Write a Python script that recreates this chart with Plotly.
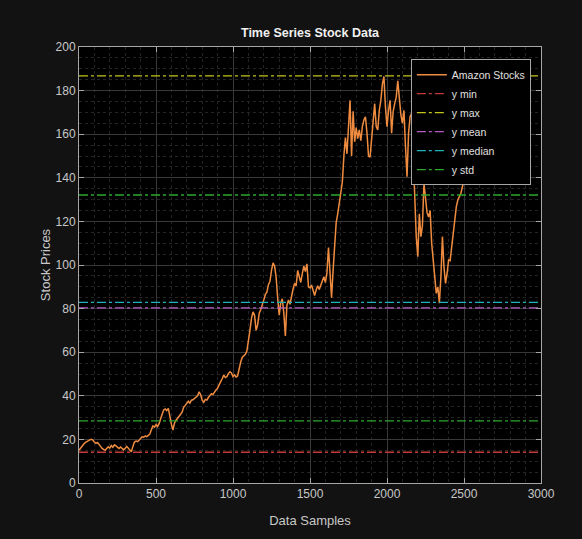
import plotly.graph_objects as go

# Daily closing prices, sampled every 10 trading days
sample_step = 10
prices = [
    15.0, 16.0, 17.2, 17.8, 18.5, 19.0, 19.6, 19.8, 20.0, 19.7,
    18.8, 18.2, 18.6, 17.9, 16.8, 15.9, 15.3, 15.0, 15.8, 16.6,
    16.0, 17.2, 16.4, 17.5, 17.0, 16.2, 15.8, 16.5, 15.6, 15.2,
    15.9, 16.8, 16.0, 15.3, 14.3, 16.8, 18.8, 19.2, 19.0, 19.6,
    20.5, 21.2, 21.0, 21.5, 21.3, 22.0, 22.4, 24.5, 26.2, 25.6,
    26.8, 25.9, 27.2, 29.5, 31.8, 33.5, 34.0, 33.2, 34.2, 30.0,
    27.0, 24.3, 27.5, 28.8, 29.6, 30.8, 31.5, 32.6, 34.8, 35.6,
    36.8, 37.5, 36.6, 38.0, 38.2, 38.9, 39.2, 40.0, 41.8, 40.5,
    38.0, 37.0, 38.3, 38.0, 39.2, 40.4, 41.0, 40.6, 41.8, 42.7,
    43.5, 45.5, 46.5, 47.8, 49.5, 48.4, 48.8, 50.2, 51.0, 50.5,
    48.8, 49.6, 48.6, 49.2, 53.0, 55.5, 57.6, 58.2, 59.0, 60.5,
    66.5, 70.0, 75.5, 78.5, 77.0, 70.0, 72.5, 77.8, 79.5, 82.5,
    84.0, 86.5, 87.5, 91.0, 92.5, 97.5, 101.0, 99.5, 94.5, 85.0,
    77.0, 82.5, 84.5, 78.0, 67.5, 81.5, 84.0, 82.0, 86.5, 89.0,
    91.5, 90.5, 97.5, 94.5, 92.0, 96.0, 99.5, 97.0, 100.5, 90.0,
    89.5, 90.8, 88.0, 86.0, 88.5, 90.5, 88.8, 91.0, 93.5, 94.6,
    92.0, 96.5, 108.0, 96.0, 85.0, 97.5, 111.0, 119.5, 123.5, 128.0,
    132.5, 138.0, 150.0, 158.5, 151.0, 163.5, 175.5, 150.0, 170.5, 156.5,
    163.0, 158.0, 162.0, 157.0, 163.5, 166.5, 168.0, 160.5, 150.0, 149.5,
    158.0, 169.5, 174.0, 163.5, 162.0, 171.0, 175.5, 183.0, 186.5, 172.5,
    163.5, 171.0, 175.5, 160.5, 170.5, 174.0, 177.0, 184.5, 174.5, 169.0,
    165.0, 171.0, 154.5, 140.5, 160.5, 168.0, 169.5, 150.0, 131.5, 113.0,
    103.8, 123.5, 113.0, 118.0, 137.5, 130.0, 124.0, 122.0, 125.0, 110.0,
    102.3, 93.0, 87.0, 90.0, 82.5, 94.6, 113.0, 99.0, 91.6, 96.0,
    102.3, 102.0, 108.4, 114.5, 120.6, 126.7, 129.8, 131.3, 132.9, 136.0,
    139.0, 141.5,
]
samples = [i * sample_step for i in range(len(prices))]

# Summary statistics shown as reference lines
y_min = 14.1
y_max = 186.8
y_mean = 80.3
y_median = 82.9
y_std = 51.8

x_ticks = [0, 500, 1000, 1500, 2000, 2500, 3000]
y_ticks = [0, 20, 40, 60, 80, 100, 120, 140, 160, 180, 200]

FONT = "Liberation Sans, Arial, sans-serif"
X_RANGE = [0, 3000]

fig = go.Figure()

fig.add_trace(go.Scatter(
    x=samples, y=prices, mode="lines", name="Amazon Stocks",
    line=dict(color="#f08c40", width=1.5),
))

ref_lines = [
    ("y min", [y_min], "#c43a3a"),
    ("y max", [y_max], "#c4c41e"),
    ("y mean", [y_mean], "#b45cc4"),
    ("y median", [y_median], "#1fb2ba"),
    ("y std", [y_mean + y_std, y_mean - y_std], "#2ea82e"),
]
for name, levels, color in ref_lines:
    xs, ys = [], []
    for lv in levels:
        xs += [X_RANGE[0], X_RANGE[1], None]
        ys += [lv, lv, None]
    fig.add_trace(go.Scatter(
        x=xs, y=ys, mode="lines", name=name,
        line=dict(color=color, width=1.3, dash="dashdot"),
    ))

axis_common = dict(
    showline=True, linecolor="#a6a6a6", linewidth=1, mirror="ticks",
    ticks="inside", ticklen=5, tickcolor="#a6a6a6",
    showgrid=True, gridcolor="#383838", gridwidth=1,
    zeroline=False,
    tickfont=dict(family=FONT, size=12, color="#c8c8c8"),
)

fig.update_xaxes(
    range=X_RANGE, tickvals=x_ticks,
    minor=dict(dtick=100, showgrid=True, gridcolor="#242424", griddash="dot", ticks=""),
    title=dict(text="Data Samples", font=dict(family=FONT, size=13, color="#c8c8c8"), standoff=15),
    **axis_common,
)
fig.update_yaxes(
    range=[0, 200], tickvals=y_ticks,
    minor=dict(dtick=5, showgrid=True, gridcolor="#242424", griddash="dot", ticks=""),
    title=dict(text="Stock Prices", font=dict(family=FONT, size=13, color="#c8c8c8"), standoff=2),
    **axis_common,
)

fig.update_layout(
    width=582, height=539,
    margin=dict(l=79, r=41, t=47, b=56),
    paper_bgcolor="#121212", plot_bgcolor="#000000",
    title=dict(
        text="<b>Time Series Stock Data</b>", x=(79 + 541) / 2 / 582, xanchor="center",
        y=1 - 33 / 539, yanchor="middle",
        font=dict(family=FONT, size=12.5, color="#f0f0f0"),
    ),
    legend=dict(
        x=0.978, xanchor="right", y=0.972, yanchor="top",
        bgcolor="#000000", bordercolor="#a6a6a6", borderwidth=1,
        font=dict(family=FONT, size=10.5, color="#e0e0e0"),
        itemwidth=30,
    ),
    showlegend=True,
)

fig.write_html("out.html")
